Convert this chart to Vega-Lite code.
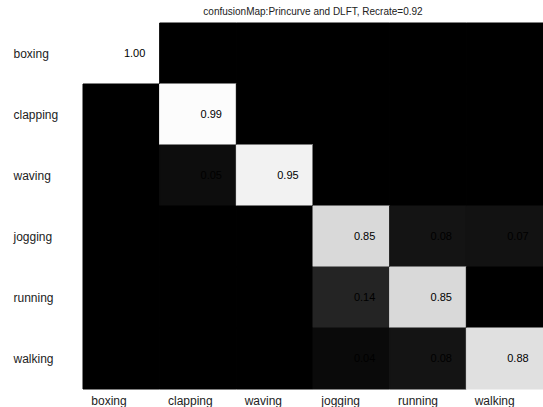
{
  "$schema": "https://vega.github.io/schema/vega-lite/v6.json",
  "autosize": "none",
  "width": 460,
  "height": 366,
  "padding": {"left": 83, "top": 23, "right": 0, "bottom": 18},
  "background": "white",
  "config": {
    "view": {"stroke": null},
    "font": "Liberation Sans",
    "axis": {"domain": false, "ticks": false, "grid": false, "title": null, "labelFont": "Liberation Sans", "labelFontSize": 12, "labelColor": "#222222"}
  },
  "title": {"text": "confusionMap:Princurve and DLFT, Recrate=0.92", "fontSize": 10, "fontWeight": "normal", "font": "Liberation Sans", "color": "#222222", "offset": 6, "anchor": "middle"},
  "data": {"values": [
    {"actual": "boxing", "predicted": "boxing", "value": 1.00},
    {"actual": "boxing", "predicted": "clapping", "value": 0},
    {"actual": "boxing", "predicted": "waving", "value": 0},
    {"actual": "boxing", "predicted": "jogging", "value": 0},
    {"actual": "boxing", "predicted": "running", "value": 0},
    {"actual": "boxing", "predicted": "walking", "value": 0},
    {"actual": "clapping", "predicted": "boxing", "value": 0},
    {"actual": "clapping", "predicted": "clapping", "value": 0.99},
    {"actual": "clapping", "predicted": "waving", "value": 0},
    {"actual": "clapping", "predicted": "jogging", "value": 0},
    {"actual": "clapping", "predicted": "running", "value": 0},
    {"actual": "clapping", "predicted": "walking", "value": 0},
    {"actual": "waving", "predicted": "boxing", "value": 0},
    {"actual": "waving", "predicted": "clapping", "value": 0.05},
    {"actual": "waving", "predicted": "waving", "value": 0.95},
    {"actual": "waving", "predicted": "jogging", "value": 0},
    {"actual": "waving", "predicted": "running", "value": 0},
    {"actual": "waving", "predicted": "walking", "value": 0},
    {"actual": "jogging", "predicted": "boxing", "value": 0},
    {"actual": "jogging", "predicted": "clapping", "value": 0},
    {"actual": "jogging", "predicted": "waving", "value": 0},
    {"actual": "jogging", "predicted": "jogging", "value": 0.85},
    {"actual": "jogging", "predicted": "running", "value": 0.08},
    {"actual": "jogging", "predicted": "walking", "value": 0.07},
    {"actual": "running", "predicted": "boxing", "value": 0},
    {"actual": "running", "predicted": "clapping", "value": 0},
    {"actual": "running", "predicted": "waving", "value": 0},
    {"actual": "running", "predicted": "jogging", "value": 0.14},
    {"actual": "running", "predicted": "running", "value": 0.85},
    {"actual": "running", "predicted": "walking", "value": 0},
    {"actual": "walking", "predicted": "boxing", "value": 0},
    {"actual": "walking", "predicted": "clapping", "value": 0},
    {"actual": "walking", "predicted": "waving", "value": 0},
    {"actual": "walking", "predicted": "jogging", "value": 0.04},
    {"actual": "walking", "predicted": "running", "value": 0.08},
    {"actual": "walking", "predicted": "walking", "value": 0.88}
  ]},
  "encoding": {
    "x": {"field": "predicted", "type": "nominal", "sort": ["boxing", "clapping", "waving", "jogging", "running", "walking"], "scale": {"paddingInner": 0, "paddingOuter": 0}, "axis": {"orient": "bottom", "labelAngle": 0, "labelAlign": "left", "labelBaseline": "top", "labelOffset": -30, "labelPadding": 6}},
    "y": {"field": "actual", "type": "nominal", "sort": ["boxing", "clapping", "waving", "jogging", "running", "walking"], "scale": {"paddingInner": 0, "paddingOuter": 0}, "axis": {"labelAlign": "left", "labelBaseline": "middle", "labelPadding": 70}}
  },
  "layer": [
    {
      "mark": {"type": "rect", "strokeWidth": 1},
      "encoding": {
        "color": {"field": "value", "type": "quantitative", "scale": {"domain": [0, 1], "range": ["#000000", "#ffffff"], "interpolate": "rgb"}, "legend": null},
        "stroke": {"field": "value", "type": "quantitative", "scale": {"domain": [0, 1], "range": ["#000000", "#ffffff"], "interpolate": "rgb"}, "legend": null}
      }
    },
    {
      "transform": [{"filter": "datum.value > 0"}],
      "mark": {"type": "text", "align": "right", "baseline": "middle", "xOffset": 24, "fontSize": 11, "color": "#000000"},
      "encoding": {
        "text": {"field": "value", "type": "quantitative", "format": ".2f"}
      }
    }
  ]
}
